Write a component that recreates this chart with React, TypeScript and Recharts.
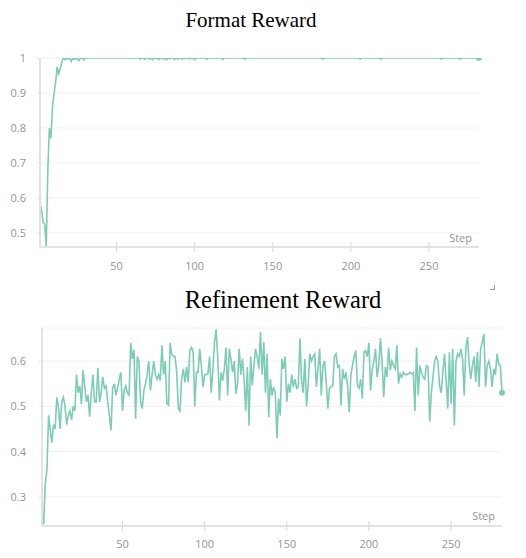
import React from 'react';
import { LineChart, Line, XAxis, YAxis, CartesianGrid } from 'recharts';

// ---------- data ----------
const xTicks = [50, 100, 150, 200, 250];
const formatYTicks = [0.5, 0.6, 0.7, 0.8, 0.9, 1];
const refineYTicks = [0.3, 0.4, 0.5, 0.6];

const formatValues = [
  0.583, 0.566, 0.53, 0.525, 0.46, 0.68, 0.8, 0.77, 0.86, 0.9,
  0.93, 0.975, 0.955, 0.97, 0.99, 1, 0.995, 1, 0.997, 1,
  0.99, 1, 0.996, 1, 0.997, 0.993, 1, 1, 0.995, 1,
  1, 1, 1, 1, 1, 1, 1, 1, 1, 1,
  1, 1, 1, 1, 1, 1, 1, 1, 1, 1,
  1, 1, 1, 1, 1, 1, 1, 1, 1, 1,
  1, 1, 1, 1, 0.997, 1, 1, 0.996, 1, 1,
  0.997, 1, 0.995, 1, 0.998, 1, 0.996, 1, 1, 0.997,
  1, 0.995, 1, 0.998, 1, 1, 0.996, 1, 0.997, 1,
  1, 0.996, 1, 0.998, 1, 1, 0.997, 1, 1, 0.995,
  1, 1, 1, 1, 1, 1, 1, 0.997, 1, 1,
  1, 1, 1, 1, 1, 1, 1, 0.996, 1, 1,
  1, 1, 1, 1, 1, 1, 1, 1, 1, 1,
  1, 0.997, 1, 1, 1, 1, 1, 1, 1, 1,
  1, 1, 1, 1, 1, 1, 1, 1, 1, 1,
  1, 1, 1, 1, 1, 1, 1, 1, 1, 1,
  1, 1, 1, 1, 1, 1, 1, 1, 1, 1,
  1, 1, 1, 1, 1, 1, 1, 1, 1, 1,
  1, 0.997, 1, 1, 1, 1, 1, 1, 1, 1,
  1, 1, 1, 1, 1, 1, 1, 1, 1, 1,
  1, 1, 1, 1, 1, 0.997, 1, 1, 1, 1,
  1, 1, 1, 1, 1, 1, 1, 1, 0.997, 1,
  1, 1, 1, 1, 1, 1, 1, 1, 1, 1,
  1, 1, 1, 1, 1, 1, 1, 1, 1, 1,
  1, 1, 1, 1, 1, 1, 1, 1, 1, 1,
  1, 1, 1, 1, 1, 1, 1, 0.997, 1, 1,
  1, 1, 1, 1, 1, 1, 1, 1, 1, 0.997,
  1, 1, 1, 1, 1, 1, 1, 1, 1, 1,
  1, 1,
];

const refineValues = [
  0.27, 0.24, 0.33, 0.36, 0.48, 0.45, 0.42, 0.46, 0.45, 0.52,
  0.5, 0.45, 0.51, 0.52, 0.5, 0.46, 0.48, 0.49, 0.47, 0.5,
  0.49, 0.57, 0.53, 0.545, 0.505, 0.58, 0.545, 0.51, 0.525, 0.477,
  0.53, 0.57, 0.51, 0.51, 0.585, 0.51, 0.53, 0.565, 0.54, 0.545,
  0.51, 0.48, 0.447, 0.54, 0.55, 0.525, 0.54, 0.56, 0.575, 0.49,
  0.535, 0.545, 0.53, 0.525, 0.64, 0.605, 0.625, 0.473, 0.61, 0.6,
  0.51, 0.495, 0.535, 0.55, 0.57, 0.6, 0.535, 0.57, 0.6, 0.57,
  0.56, 0.57, 0.557, 0.635, 0.57, 0.6, 0.506, 0.503, 0.64, 0.615,
  0.61, 0.61, 0.575, 0.495, 0.49, 0.56, 0.583, 0.553, 0.587, 0.553,
  0.623, 0.63, 0.62, 0.5, 0.575, 0.575, 0.627, 0.59, 0.543, 0.57,
  0.57, 0.572, 0.61, 0.53, 0.58, 0.642, 0.67, 0.605, 0.513, 0.575,
  0.557, 0.583, 0.63, 0.524, 0.627, 0.605, 0.575, 0.6, 0.528, 0.55,
  0.627, 0.57, 0.605, 0.56, 0.49, 0.587, 0.458, 0.61, 0.546, 0.59,
  0.627, 0.61, 0.583, 0.664, 0.57, 0.642, 0.53, 0.616, 0.476, 0.56,
  0.524, 0.543, 0.53, 0.43, 0.517, 0.48, 0.605, 0.583, 0.61, 0.51,
  0.55, 0.53, 0.57, 0.543, 0.56, 0.54, 0.543, 0.65, 0.557, 0.53,
  0.605, 0.5, 0.546, 0.616, 0.6, 0.61, 0.616, 0.543, 0.583, 0.627,
  0.524, 0.59, 0.6, 0.554, 0.495, 0.54, 0.543, 0.546, 0.61, 0.616,
  0.587, 0.59, 0.502, 0.583, 0.56, 0.575, 0.546, 0.487, 0.57, 0.59,
  0.61, 0.623, 0.546, 0.54, 0.56, 0.517, 0.62, 0.623, 0.61, 0.64,
  0.535, 0.583, 0.6, 0.627, 0.565, 0.59, 0.65, 0.6, 0.52, 0.587,
  0.565, 0.63, 0.58, 0.6, 0.59, 0.583, 0.635, 0.55, 0.572, 0.565,
  0.575, 0.57, 0.57, 0.572, 0.575, 0.572, 0.575, 0.49, 0.63, 0.524,
  0.59, 0.575, 0.565, 0.56, 0.59, 0.587, 0.466, 0.53, 0.565, 0.6,
  0.61, 0.6, 0.546, 0.53, 0.575, 0.616, 0.557, 0.495, 0.62, 0.506,
  0.627, 0.458, 0.6, 0.616, 0.61, 0.627, 0.605, 0.524, 0.63, 0.653,
  0.594, 0.56, 0.59, 0.61, 0.554, 0.62, 0.543, 0.627, 0.642, 0.66,
  0.543, 0.59, 0.6, 0.583, 0.543, 0.583, 0.57, 0.616, 0.594, 0.59,
  0.53,
];

const formatData = formatValues.map((v, i) => ({ step: i + 1, value: v }));
const refineData = refineValues.map((v, i) => ({ step: i + 1, value: v }));

// ---------- styles ----------
const LINE = '#7ecbb8';
const AXIS = '#e2e2e2';
const GRID = '#f0f0f0';
const TICK_TEXT = '#949494';
const FONT = '"Open Sans", "Noto Sans", sans-serif';
const SERIF = '"Liberation Serif", "Times New Roman", serif';

const makeXTick = (margin: number) => (props: any) => {
  const { x, y, payload } = props;
  const ay = y - margin;
  return (
    <g>
      <line x1={x} x2={x} y1={ay - 5} y2={ay + 5} stroke="#d8d8d8" strokeWidth={1} />
      <text x={x} y={y} dy="0.71em" textAnchor="middle" fontSize={11} fill={TICK_TEXT} fontFamily={FONT}>
        {payload.value}
      </text>
    </g>
  );
};

const makeEndDot = (last: number) => (props: any) => {
  const { cx, cy, index } = props;
  if (index !== last) return <g key={`d${index}`} />;
  return <circle key={`d${index}`} cx={cx} cy={cy} r={3} fill={LINE} stroke="none" />;
};

const yTickStyle = { fontSize: 11, fill: TICK_TEXT, fontFamily: FONT };

export default function App() {
  return (
    <div style={{ position: 'absolute', left: 0, top: 0, width: 526, height: 558, background: '#fff', overflow: 'hidden' }}>
      <div style={{ position: 'absolute', left: 251, top: 8, transform: 'translateX(-50%)', fontFamily: SERIF, fontSize: 21, whiteSpace: 'nowrap', color: '#000' }}>
        Format Reward
      </div>
      <div style={{ position: 'absolute', left: 0, top: 0 }}>
        <LineChart width={526} height={290} data={formatData} margin={{ top: 58, right: 47, bottom: 13, left: 0 }}>
          <CartesianGrid vertical={false} stroke={GRID} />
          <XAxis
            dataKey="step"
            type="number"
            domain={[1, 282]}
            ticks={xTicks}
            height={30}
            tickLine={false}
            tickSize={0}
            tickMargin={15}
            axisLine={{ stroke: AXIS, strokeWidth: 2 }}
            tick={makeXTick(15)}
          />
          <YAxis
            type="number"
            domain={[0.46, 1]}
            ticks={formatYTicks}
            width={40}
            tickSize={3}
            tickMargin={11}
            tickLine={{ stroke: AXIS }}
            axisLine={{ stroke: AXIS, strokeWidth: 2 }}
            tick={yTickStyle}
            allowDataOverflow
          />
          <Line
            type="linear"
            dataKey="value"
            stroke={LINE}
            strokeWidth={1.6}
            dot={makeEndDot(formatData.length - 1)}
            activeDot={false}
            isAnimationActive={false}
          />
        </LineChart>
      </div>
      <div style={{ position: 'absolute', right: 54, top: 230, fontSize: 11, lineHeight: '16px', color: TICK_TEXT, fontFamily: FONT }}>
        Step
      </div>
      <div style={{ position: 'absolute', left: 490, top: 285, width: 4, height: 4, borderRight: '1px solid #999', borderBottom: '1px solid #999' }} />

      <div style={{ position: 'absolute', left: 283, top: 286, transform: 'translateX(-50%)', fontFamily: SERIF, fontSize: 24.5, whiteSpace: 'nowrap', color: '#000' }}>
        Refinement Reward
      </div>
      <div style={{ position: 'absolute', left: 0, top: 280 }}>
        <LineChart width={526} height={278} data={refineData} margin={{ top: 48, right: 24, bottom: 2, left: 0 }}>
          <CartesianGrid vertical={false} stroke={GRID} />
          <XAxis
            dataKey="step"
            type="number"
            domain={[1, 281]}
            ticks={xTicks}
            height={30}
            tickLine={false}
            tickSize={0}
            tickMargin={14}
            axisLine={{ stroke: AXIS, strokeWidth: 2 }}
            tick={makeXTick(14)}
          />
          <YAxis
            type="number"
            domain={[0.236, 0.673]}
            ticks={refineYTicks}
            width={42}
            tickSize={3}
            tickMargin={13}
            tickLine={{ stroke: AXIS }}
            axisLine={{ stroke: AXIS, strokeWidth: 2 }}
            tick={yTickStyle}
            allowDataOverflow
          />
          <Line
            type="linear"
            dataKey="value"
            stroke={LINE}
            strokeWidth={1.6}
            dot={makeEndDot(refineData.length - 1)}
            activeDot={false}
            isAnimationActive={false}
          />
        </LineChart>
      </div>
      <div style={{ position: 'absolute', right: 31, top: 508, fontSize: 11, lineHeight: '16px', color: TICK_TEXT, fontFamily: FONT }}>
        Step
      </div>
    </div>
  );
}
